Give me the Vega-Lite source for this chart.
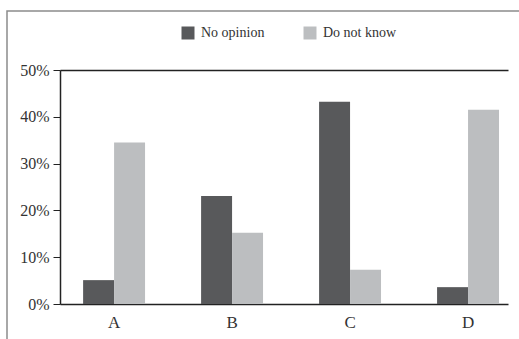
{
  "$schema": "https://vega.github.io/schema/vega-lite/v6.json",
  "width": 520,
  "height": 334,
  "autosize": "none",
  "padding": {"left": 7, "top": 11, "right": 0, "bottom": 0},
  "background": "white",
  "config": {
    "font": "Liberation Serif",
    "view": {"stroke": "#8c8c8c", "strokeWidth": 1.5},
    "axis": {"labelFont": "Liberation Serif", "labelColor": "#333333"},
    "legend": {"labelFont": "Liberation Serif", "labelColor": "#333333"}
  },
  "data": {
    "values": [
      {"group": "A", "series": "No opinion", "value": 0.051},
      {"group": "A", "series": "Do not know", "value": 0.345},
      {"group": "B", "series": "No opinion", "value": 0.231},
      {"group": "B", "series": "Do not know", "value": 0.152},
      {"group": "C", "series": "No opinion", "value": 0.432},
      {"group": "C", "series": "Do not know", "value": 0.073},
      {"group": "D", "series": "No opinion", "value": 0.036},
      {"group": "D", "series": "Do not know", "value": 0.415}
    ]
  },
  "mark": {"type": "bar"},
  "encoding": {
    "x": {
      "field": "group",
      "type": "nominal",
      "scale": {"range": [53, 501], "paddingInner": 0.475, "paddingOuter": 0.136, "align": 0.72},
      "axis": {
        "title": null,
        "labelAngle": 0,
        "ticks": false,
        "labelFontSize": 17,
        "labelPadding": 10,
        "domainColor": "#222222",
        "domainWidth": 1.5,
        "offset": -41
      }
    },
    "xOffset": {"field": "series", "type": "nominal", "sort": ["No opinion", "Do not know"]},
    "y": {
      "field": "value",
      "type": "quantitative",
      "scale": {"domain": [0, 0.5], "nice": false, "range": [293, 59]},
      "axis": {
        "title": null,
        "format": ".0%",
        "values": [0, 0.1, 0.2, 0.3, 0.4, 0.5],
        "labelFontSize": 16,
        "labelPadding": 4,
        "tickSize": 7,
        "tickColor": "#222222",
        "domainColor": "#222222",
        "domainWidth": 1.5,
        "grid": true,
        "gridColor": "#222222",
        "gridWidth": 1.5,
        "gridOpacity": {"condition": {"test": "datum.value === 0.5", "value": 1}, "value": 0},
        "offset": -53
      }
    },
    "color": {
      "field": "series",
      "type": "nominal",
      "sort": ["No opinion", "Do not know"],
      "scale": {"domain": ["No opinion", "Do not know"], "range": ["#58595b", "#bcbec0"]},
      "legend": {
        "title": null,
        "orient": "none",
        "direction": "horizontal",
        "legendX": 174,
        "legendY": 15,
        "symbolType": "square",
        "symbolSize": 169,
        "symbolStrokeWidth": 0,
        "labelFontSize": 14,
        "labelOffset": 6,
        "columnPadding": 38
      }
    }
  }
}
